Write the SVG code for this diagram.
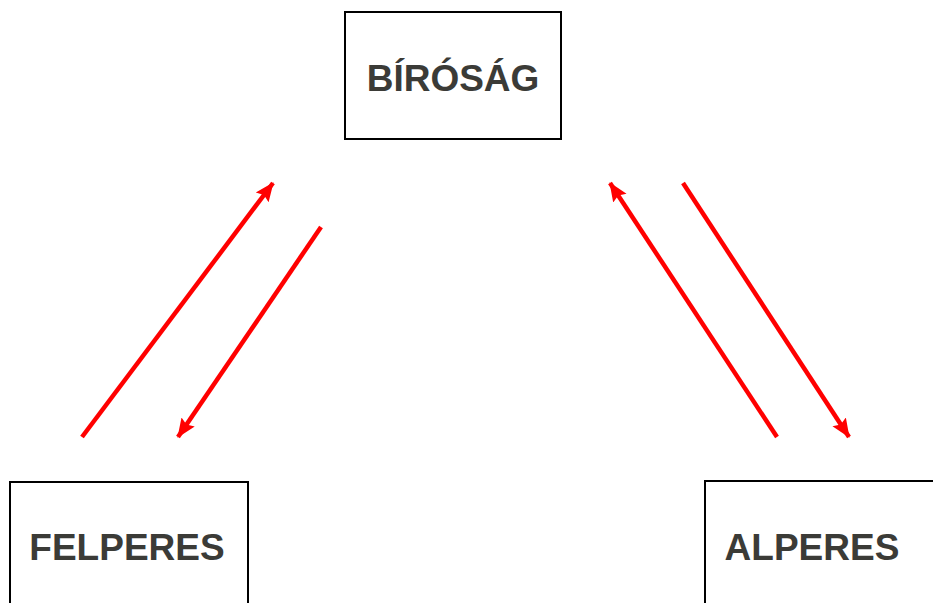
<svg xmlns="http://www.w3.org/2000/svg" width="933" height="603" viewBox="0 0 933 603">
<style>
.box{fill:#fff;stroke:#000;stroke-width:2}
.lbl{font-family:"Liberation Sans",Arial,sans-serif;font-weight:bold;font-size:37px;fill:#3b3b37;text-anchor:middle}
.arr{stroke:#ff0000;stroke-width:4.5;fill:none;marker-end:url(#ah)}
</style>
<defs>
<marker id="ah" markerUnits="userSpaceOnUse" markerWidth="20" markerHeight="18" refX="18" refY="8" orient="auto" viewBox="0 0 20 16">
<path d="M0,0 L19,8 L0,16 L3,8 Z" fill="#ff0000"/>
</marker>
</defs>
<rect width="933" height="603" fill="#fff"/>
<g id="birosag">
<rect class="box" x="345" y="12" width="216" height="127"/>
<text class="lbl" x="453" y="91">BÍRÓSÁG</text>
</g>
<g id="felperes">
<rect class="box" x="10" y="482" width="238" height="130"/>
<text class="lbl" x="127" y="560">FELPERES</text>
</g>
<g id="alperes">
<rect class="box" x="705" y="481" width="240" height="130"/>
<text class="lbl" x="812" y="560">ALPERES</text>
</g>
<g id="connectors">
<line class="arr" x1="82" y1="437" x2="273" y2="183"/>
<line class="arr" x1="321" y1="227" x2="178" y2="437"/>
<line class="arr" x1="777" y1="437" x2="610" y2="183"/>
<line class="arr" x1="683" y1="183" x2="849" y2="437"/>
</g>
</svg>
